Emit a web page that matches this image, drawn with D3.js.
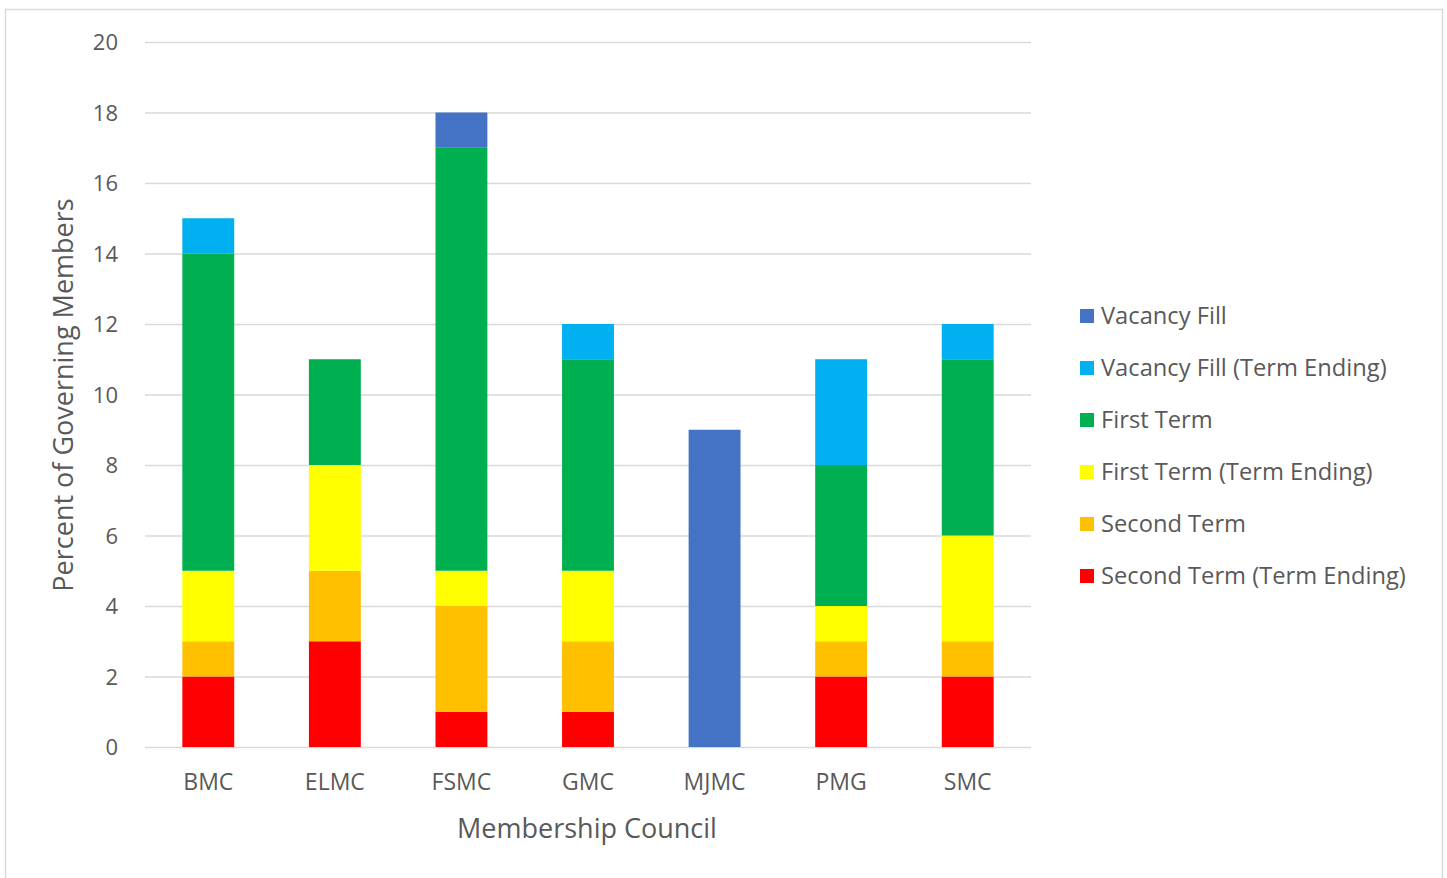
<!DOCTYPE html>
<html>
<head>
<meta charset="utf-8">
<script src="https://cdn.jsdelivr.net/npm/d3@7"></script>
<style>
  body { margin: 0; background: #fff; }
  svg text { font-family: "Open Sans", Lato, sans-serif; fill: #595959; }
</style>
</head>
<body>
<svg id="chart" width="1447" height="878"></svg>
<script>
// councils along the x axis
var councils = ['BMC', 'ELMC', 'FSMC', 'GMC', 'MJMC', 'PMG', 'SMC'];

// series, bottom of the stack first
var seriesNames = ['Second Term (Term Ending)', 'Second Term', 'First Term (Term Ending)',
                   'First Term', 'Vacancy Fill (Term Ending)', 'Vacancy Fill'];
var seriesColors = ['#FF0000', '#FFC000', '#FFFF00', '#00B050', '#00B0F0', '#4472C4'];

// values per series, one per council
var secondTermEnding = [2, 3, 1, 1, 0, 2, 2];
var secondTerm       = [1, 2, 3, 2, 0, 1, 1];
var firstTermEnding  = [2, 3, 1, 2, 0, 1, 3];
var firstTerm        = [9, 3, 12, 6, 0, 4, 5];
var vacancyEnding    = [1, 0, 0, 1, 0, 3, 1];
var vacancyFill      = [0, 0, 1, 0, 9, 0, 0];

var yTicks = [0, 2, 4, 6, 8, 10, 12, 14, 16, 18, 20];

var allSeries = [secondTermEnding, secondTerm, firstTermEnding, firstTerm, vacancyEnding, vacancyFill];

// build rows for d3.stack
var rows = councils.map(function(c, i) {
    var row = { council: c };
    seriesNames.forEach(function(s, j) { row[s] = allSeries[j][i]; });
    return row;
});

var svg = d3.select('#chart');

// outer frame like the exported chart
svg.append('rect')
    .attr('x', 5.5).attr('y', 9.5)
    .attr('width', 1437).attr('height', 900)
    .attr('fill', 'none').attr('stroke', '#D9D9D9').attr('stroke-width', 1.5);

// plot area (window.top is read-only, so no "top" here)
var plotLeft = 145, plotRight = 1031, plotTop = 42, plotBottom = 747;

var x = d3.scaleBand().domain(councils).range([plotLeft, plotRight]).paddingInner(0.59).paddingOuter(0.295);
var y = d3.scaleLinear().domain([0, 20]).range([plotBottom, plotTop]);

// gridlines
svg.append('g').selectAll('line')
    .data(yTicks)
    .enter().append('line')
    .attr('x1', plotLeft).attr('x2', plotRight)
    .attr('y1', function(d) { return y(d) + 0.5; })
    .attr('y2', function(d) { return y(d) + 0.5; })
    .attr('stroke', '#D9D9D9').attr('stroke-width', 1.5);

// y axis labels
var yAxis = svg.append('g')
    .attr('transform', 'translate(' + (plotLeft - 27) + ',0)')
    .call(d3.axisLeft(y).tickValues(yTicks).tickSize(0).tickPadding(0));
yAxis.select('.domain').remove();
yAxis.selectAll('text').attr('font-size', 22).attr('dy', '0.35em');

// x axis labels
var xAxis = svg.append('g')
    .attr('transform', 'translate(0,' + plotBottom + ')')
    .call(d3.axisBottom(x).tickSize(0).tickPadding(27));
xAxis.select('.domain').remove();
xAxis.selectAll('text').attr('font-size', 23);

// stacked bars
var stack = d3.stack().keys(seriesNames);
var layers = stack(rows);

svg.append('g').selectAll('g')
    .data(layers)
    .enter().append('g')
    .attr('fill', function(d, i) { return seriesColors[i]; })
    .selectAll('rect')
    .data(function(d) { return d; })
    .enter().append('rect')
    .attr('x', function(d) { return x(d.data.council); })
    .attr('width', x.bandwidth())
    .attr('y', function(d) { return y(d[1]); })
    .attr('height', function(d) { return y(d[0]) - y(d[1]); });

// axis titles
svg.append('text')
    .attr('x', (plotLeft + plotRight) / 2 - 1).attr('y', 838)
    .attr('text-anchor', 'middle').attr('font-size', 27)
    .text('Membership Council');

svg.append('text')
    .attr('transform', 'translate(73,395) rotate(-90)')
    .attr('text-anchor', 'middle').attr('font-size', 27)
    .text('Percent of Governing Members');

// legend, top entry is the top of the stack
var legendOrder = seriesNames.slice().reverse();
var legendColors = seriesColors.slice().reverse();
var legend = svg.append('g').selectAll('g')
    .data(legendOrder)
    .enter().append('g')
    .attr('transform', function(d, i) { return 'translate(1080,' + (316 + i * 52) + ')'; });

legend.append('rect')
    .attr('x', 0).attr('y', -7).attr('width', 14).attr('height', 14)
    .attr('fill', function(d, i) { return legendColors[i]; });

legend.append('text')
    .attr('x', 21).attr('dy', '0.35em').attr('font-size', 23.7)
    .text(function(d) { return d; });
</script>
</body>
</html>
